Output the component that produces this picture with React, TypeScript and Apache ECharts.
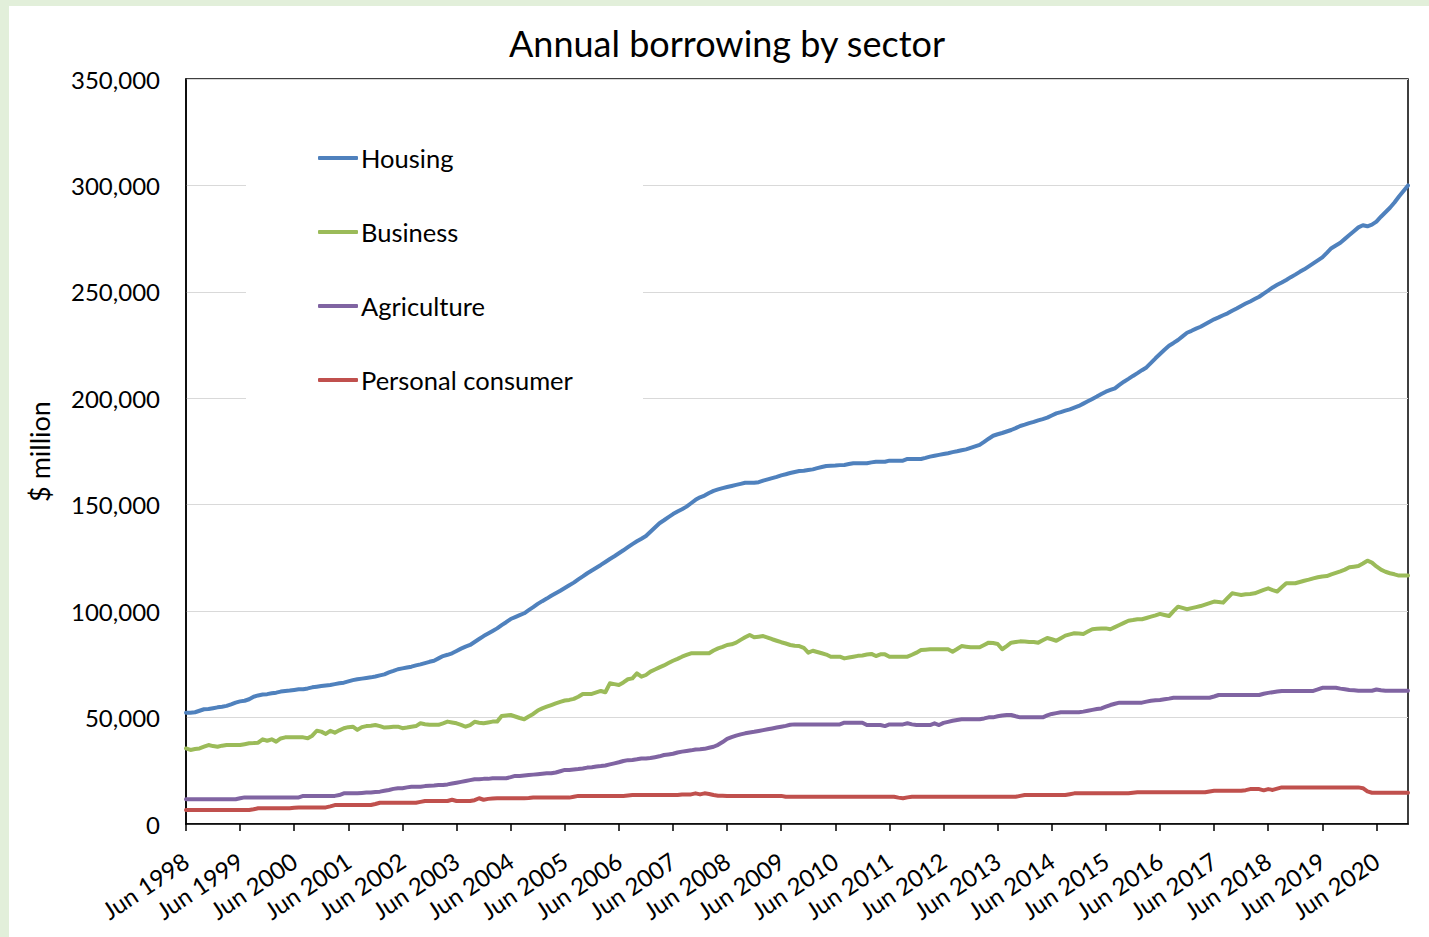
import React, { useEffect, useRef } from "react";
import * as echarts from "echarts";

// Monthly categories, Jun 1998 .. Jan 2021
const MONTHS = ["Jun", "Jul", "Aug", "Sep", "Oct", "Nov", "Dec", "Jan", "Feb", "Mar", "Apr", "May"];
const FIRST_YEAR = 1998;
const N_POINTS = 272;
const categories: string[] = [];
for (let i = 0; i < N_POINTS; i++) {
  const mi = i % 12;
  const yr = FIRST_YEAR + Math.floor(i / 12) + (mi >= 7 ? 1 : 0);
  categories.push(`${MONTHS[mi]} ${yr}`);
}

const SERIES_NAMES = ["Housing", "Business", "Agriculture", "Personal consumer"];
const SERIES_COLORS = ["#4f81bd", "#9bbb59", "#8064a2", "#c0504d"];

const housing = [
  52300, 52300, 52500, 53200, 53900, 54000, 54400, 54800, 55100, 55500, 56200, 57000,
  57600, 57900, 58600, 59800, 60400, 60800, 61000, 61400, 61700, 62200, 62500, 62700,
  63000, 63300, 63300, 63700, 64200, 64500, 64800, 65100, 65300, 65700, 66100, 66400,
  67000, 67600, 68000, 68300, 68600, 68900, 69300, 69800, 70300, 71200, 71900, 72700,
  73100, 73500, 73900, 74500, 75000, 75600, 76200, 76700, 77800, 78900, 79500, 80200,
  81300, 82400, 83300, 84100, 85500, 86900, 88300, 89500, 90700, 91900, 93400, 94800,
  96300, 97200, 98100, 99000, 100500, 101900, 103400, 104700, 105900, 107200, 108400, 109600,
  110900, 112200, 113400, 114900, 116300, 117800, 119100, 120400, 121700, 123100, 124500, 125800,
  127200, 128600, 130100, 131500, 132800, 134000, 135300, 137300, 139300, 141300, 142700, 144200,
  145600, 146800, 147900, 149100, 150700, 152300, 153500, 154300, 155500, 156500, 157200, 157800,
  158300, 158800, 159300, 159800, 160300, 160300, 160300, 160600, 161300, 161900, 162500, 163100,
  163800, 164300, 164900, 165400, 165800, 166000, 166300, 166600, 167200, 167700, 168200, 168300,
  168400, 168600, 168700, 169100, 169500, 169500, 169500, 169500, 169900, 170200, 170200, 170200,
  170700, 170700, 170700, 170700, 171500, 171500, 171500, 171500, 172000, 172600, 173000, 173400,
  173800, 174200, 174700, 175100, 175600, 176000, 176700, 177400, 178100, 179500, 181000, 182400,
  183100, 183700, 184400, 185100, 186000, 187000, 187600, 188300, 188900, 189600, 190200, 190900,
  191900, 192900, 193500, 194200, 194800, 195600, 196400, 197500, 198600, 199700, 200800, 202000,
  203100, 203900, 204700, 206300, 207800, 209100, 210500, 211800, 213200, 214500, 216600, 218800,
  220800, 222800, 224700, 226000, 227400, 229100, 230800, 231700, 232700, 233600, 234800, 236000,
  237100, 238000, 239000, 239900, 241100, 242200, 243400, 244500, 245500, 246600, 247700, 249200,
  250600, 252100, 253300, 254400, 255600, 256900, 258100, 259400, 260600, 262000, 263400, 264800,
  266200, 268300, 270500, 271800, 273100, 274900, 276700, 278500, 280300, 281300, 280800, 281600,
  283000, 285300, 287400, 289500, 292000, 294800, 297400, 300000,
];

const business = [
  35500, 34800, 35200, 35500, 36300, 37100, 36600, 36300, 36800, 37100, 37100, 37100,
  37100, 37500, 37900, 38000, 38200, 39800, 39100, 39800, 38700, 40200, 40700, 40700,
  40700, 40700, 40700, 40300, 41500, 43800, 43400, 42300, 43800, 42900, 44000, 45000,
  45500, 45700, 44200, 45500, 46000, 46200, 46500, 46000, 45300, 45500, 45700, 45700,
  45000, 45300, 45700, 46000, 47300, 46900, 46600, 46600, 46600, 47300, 48100, 47700,
  47300, 46600, 45700, 46500, 48000, 47600, 47300, 47700, 48100, 48100, 50700, 51000,
  51200, 50500, 49800, 49200, 50500, 51700, 53300, 54300, 55100, 55900, 56700, 57400,
  58000, 58300, 58800, 59800, 61100, 61100, 61100, 61800, 62500, 61900, 66100, 65700,
  65300, 66500, 68000, 68400, 70800, 69200, 70000, 71600, 72600, 73600, 74500, 75600,
  76700, 77600, 78600, 79400, 80200, 80200, 80200, 80200, 80200, 81500, 82500, 83200,
  84100, 84400, 85200, 86500, 87700, 88800, 87700, 88000, 88300, 87600, 86800, 86100,
  85400, 84800, 84100, 83700, 83600, 82800, 80500, 81400, 80800, 80200, 79600, 78600,
  78600, 78600, 77800, 78200, 78600, 79000, 79200, 79600, 79900, 78900, 79700, 79700,
  78600, 78600, 78600, 78600, 78600, 79500, 80500, 81700, 81900, 82100, 82100, 82100,
  82100, 82100, 80900, 82200, 83600, 83300, 83000, 83000, 83000, 84100, 85200, 85000,
  84600, 82100, 83600, 85200, 85500, 85800, 85700, 85500, 85500, 85200, 86300, 87400,
  86800, 86100, 87300, 88500, 89100, 89600, 89500, 89300, 90400, 91500, 91700, 91900,
  91900, 91500, 92500, 93500, 94500, 95500, 95800, 96200, 96200, 96800, 97400, 98000,
  98700, 98200, 97700, 100000, 102100, 101500, 100900, 101400, 101900, 102400, 103100, 103800,
  104500, 104300, 104000, 106200, 108400, 108000, 107600, 107900, 108100, 108400, 109200, 110000,
  110700, 109900, 109200, 111200, 113100, 113100, 113100, 113700, 114300, 114800, 115400, 115900,
  116300, 116500, 117300, 118000, 118700, 119500, 120600, 120900, 121200, 122400, 123700, 122800,
  121000, 119500, 118500, 117800, 117300, 116700, 116700, 116700,
];

const agriculture = [
  11600, 11600, 11600, 11600, 11600, 11600, 11600, 11600, 11600, 11600, 11600, 11600,
  12100, 12500, 12500, 12500, 12500, 12500, 12500, 12500, 12500, 12500, 12500, 12500,
  12500, 12500, 13200, 13200, 13200, 13200, 13200, 13200, 13200, 13200, 13600, 14400,
  14400, 14400, 14400, 14600, 14800, 14800, 15000, 15200, 15600, 16000, 16500, 16800,
  16800, 17200, 17500, 17500, 17500, 17800, 18000, 18100, 18300, 18300, 18600, 19000,
  19400, 19800, 20200, 20600, 21000, 21000, 21200, 21200, 21500, 21500, 21500, 21500,
  22000, 22600, 22600, 22800, 23000, 23200, 23400, 23600, 23800, 23800, 24200, 24800,
  25400, 25400, 25600, 25800, 26100, 26500, 26700, 27000, 27200, 27500, 28000, 28500,
  29000, 29600, 30000, 30100, 30400, 30800, 30800, 31000, 31400, 31800, 32400, 32700,
  33000, 33600, 34000, 34300, 34600, 35000, 35100, 35300, 35800, 36300, 37200, 38500,
  40000, 40800, 41500, 42100, 42600, 43000, 43300, 43700, 44100, 44500, 44900, 45300,
  45700, 46100, 46600, 46800, 46800, 46800, 46800, 46800, 46800, 46800, 46800, 46800,
  46800, 46800, 47600, 47600, 47600, 47600, 47600, 46500, 46500, 46500, 46500, 46000,
  46800, 46800, 46800, 46800, 47300, 46800, 46500, 46500, 46500, 46500, 47300, 46500,
  47500, 48000, 48500, 48900, 49200, 49200, 49200, 49200, 49200, 49600, 50100, 50100,
  50600, 51000, 51200, 51200, 50600, 50100, 50100, 50100, 50100, 50100, 50100, 51000,
  51700, 52100, 52500, 52500, 52500, 52500, 52500, 52800, 53200, 53600, 54000, 54300,
  55100, 55900, 56500, 57000, 57000, 57000, 57000, 57000, 57000, 57500, 57900, 58100,
  58300, 58600, 58900, 59300, 59300, 59300, 59300, 59300, 59300, 59300, 59300, 59300,
  59900, 60600, 60600, 60600, 60600, 60600, 60600, 60600, 60600, 60600, 60600, 61200,
  61600, 61900, 62200, 62500, 62500, 62500, 62500, 62500, 62500, 62500, 62500, 63200,
  64000, 64000, 64000, 64000, 63600, 63300, 63000, 62800, 62600, 62600, 62600, 62600,
  63200, 62800, 62600, 62600, 62600, 62600, 62600, 62600,
];

const personalConsumer = [
  6600, 6600, 6600, 6600, 6600, 6600, 6600, 6600, 6600, 6600, 6600, 6600,
  6600, 6600, 6600, 6900, 7400, 7400, 7400, 7400, 7400, 7400, 7400, 7400,
  7600, 7800, 7800, 7800, 7800, 7800, 7800, 7800, 8300, 8900, 8900, 8900,
  8900, 8900, 8900, 8900, 8900, 8900, 9400, 10000, 10000, 10000, 10000, 10000,
  10000, 10000, 10000, 10000, 10400, 10800, 10800, 10800, 10800, 10800, 10800, 11400,
  10800, 10800, 10800, 10800, 11200, 12100, 11400, 11800, 12000, 12100, 12100, 12100,
  12100, 12100, 12100, 12100, 12200, 12400, 12400, 12400, 12400, 12400, 12400, 12400,
  12400, 12400, 12800, 13200, 13200, 13200, 13200, 13200, 13200, 13200, 13200, 13200,
  13200, 13200, 13400, 13600, 13600, 13600, 13600, 13600, 13600, 13600, 13600, 13600,
  13600, 13600, 13900, 13900, 13900, 14400, 13900, 14400, 14100, 13600, 13300, 13300,
  13200, 13200, 13200, 13200, 13200, 13200, 13200, 13200, 13200, 13200, 13200, 13200,
  13200, 12800, 12800, 12800, 12800, 12800, 12800, 12800, 12800, 12800, 12800, 12800,
  12800, 12800, 12800, 12800, 12800, 12800, 12800, 12800, 12800, 12800, 12800, 12800,
  12800, 12800, 12400, 12100, 12500, 12800, 12800, 12800, 12800, 12800, 12800, 12800,
  12800, 12800, 12800, 12800, 12800, 12800, 12800, 12800, 12800, 12800, 12800, 12800,
  12800, 12800, 12800, 12800, 12800, 13200, 13600, 13600, 13600, 13600, 13600, 13600,
  13600, 13600, 13600, 13600, 14000, 14400, 14400, 14400, 14400, 14400, 14400, 14400,
  14400, 14400, 14400, 14400, 14400, 14400, 14700, 14900, 14900, 14900, 14900, 14900,
  14900, 14900, 14900, 14900, 14900, 14900, 14900, 14900, 14900, 14900, 14900, 15300,
  15600, 15600, 15600, 15600, 15600, 15600, 15600, 15900, 16400, 16400, 16400, 15800,
  16400, 16000, 16600, 17200, 17200, 17200, 17200, 17200, 17200, 17200, 17200, 17200,
  17200, 17200, 17200, 17200, 17200, 17200, 17200, 17200, 17200, 16800, 15300, 14700,
  14700, 14700, 14700, 14700, 14700, 14700, 14700, 14700,
];

const SERIES_DATA = [housing, business, agriculture, personalConsumer];

const Y_TICKS = { min: 0, max: 350000, interval: 50000 };
const FONT = "Lato, 'Noto Sans', sans-serif";

export default function App() {
  const ref = useRef<HTMLDivElement>(null);

  useEffect(() => {
    if (!ref.current) return;
    const chart = echarts.init(ref.current, undefined, { renderer: "svg" });
    chart.setOption({
      animation: false,
      backgroundColor: "transparent",
      textStyle: { fontFamily: FONT },
      title: {
        text: "Annual borrowing by sector",
        left: 722,
        top: 20,
        textAlign: "center",
        textStyle: { fontSize: 36, fontWeight: "normal", color: "#000", fontFamily: FONT },
      },
      graphic: [
        {
          type: "rect",
          z: 1,
          shape: { x: 246, y: 115, width: 397, height: 305 },
          style: { fill: "#ffffff" },
          silent: true,
        },
      ],
      legend: {
        orient: "vertical",
        left: 313,
        top: 140,
        itemWidth: 40,
        itemHeight: 4,
        itemGap: 48,
        icon: "roundRect",
        data: SERIES_NAMES,
        textStyle: { fontSize: 25.5, color: "#000", fontFamily: FONT, lineHeight: 25, padding: [0, 0, 0, -2] },
      },
      grid: {
        left: 186,
        top: 79,
        right: 21,
        bottom: 113,
        show: true,
        borderColor: "#000",
        borderWidth: 1.5,
        backgroundColor: "transparent",
      },
      xAxis: {
        type: "category",
        boundaryGap: false,
        data: categories,
        axisLine: { lineStyle: { color: "#000", width: 1.5 } },
        axisTick: { show: true, interval: 11, length: 7, lineStyle: { color: "#000", width: 1.5 } },
        axisLabel: {
          interval: 11,
          rotate: 34,
          margin: 34,
          fontSize: 24,
          color: "#000",
          fontFamily: FONT,
        },
        splitLine: { show: false },
      },
      yAxis: {
        type: "value",
        min: Y_TICKS.min,
        max: Y_TICKS.max,
        interval: Y_TICKS.interval,
        name: "$ million",
        nameLocation: "middle",
        nameGap: 133,
        nameRotate: 90,
        nameTextStyle: { fontSize: 27, color: "#000", fontFamily: FONT },
        axisLine: { show: true, lineStyle: { color: "#000", width: 1.5 } },
        axisTick: { show: false },
        axisLabel: {
          margin: 26,
          fontSize: 24,
          color: "#000",
          fontFamily: FONT,
          formatter: (v: number) => v.toLocaleString("en-US"),
        },
        splitLine: { show: true, lineStyle: { color: "#d9d9d9", width: 1 } },
      },
      series: SERIES_NAMES.map((name, i) => ({
        name,
        type: "line",
        data: SERIES_DATA[i],
        showSymbol: false,
        symbol: "none",
        z: 3,
        lineStyle: { color: SERIES_COLORS[i], width: 4, cap: "round", join: "round" },
        itemStyle: { color: SERIES_COLORS[i] },
      })),
    });
    return () => chart.dispose();
  }, []);

  return (
    <div style={{ position: "absolute", left: 0, top: 0, width: 1429, height: 937, background: "#e2efda", overflow: "hidden" }}>
      <div style={{ position: "absolute", left: 9, top: 6, width: 1420, height: 931, background: "#ffffff" }} />
      <div ref={ref} style={{ position: "absolute", left: 0, top: 0, width: 1429, height: 937 }} />
    </div>
  );
}
